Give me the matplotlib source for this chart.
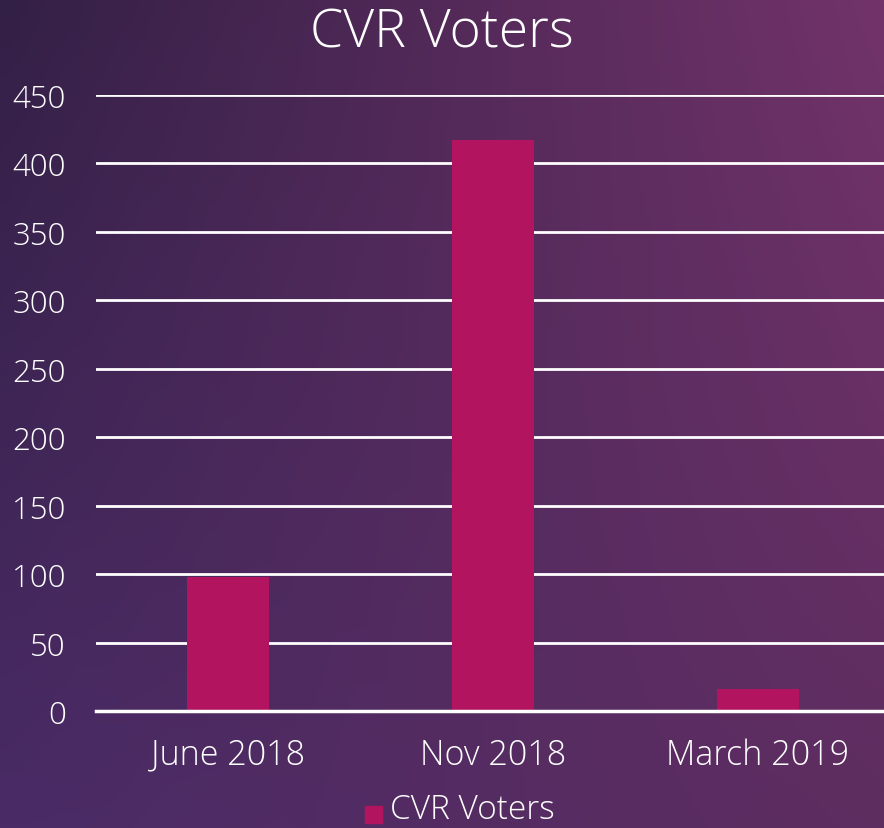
"""CVR Voters bar chart on a purple gradient background."""

import matplotlib
matplotlib.use("Agg")
import matplotlib.pyplot as plt
import numpy as np
from matplotlib.colors import to_rgb

# ── Data ──────────────────────────────────────────────────────────────────────

categories = ["June 2018", "Nov 2018", "March 2019"]
voters = [98, 417, 16]
y_ticks = [0, 50, 100, 150, 200, 250, 300, 350, 400, 450]
series_name = "CVR Voters"

BAR_COLOR = "#B3145F"
FONT = ["Open Sans", "DejaVu Sans"]
WEIGHT = "light"

W, H = 884, 829
fig = plt.figure(figsize=(W / 100, H / 100), dpi=100)

# ── Background gradient (bilinear between corner colours) ─────────────────────

tl, tr = np.array(to_rgb("#332046")), np.array(to_rgb("#72336A"))
bl, br = np.array(to_rgb("#4A2B66")), np.array(to_rgb("#5E2D60"))
u = np.linspace(0, 1, 200)[None, :, None]
v = np.linspace(0, 1, 200)[:, None, None]
grad = (1 - v) * ((1 - u) * tl + u * tr) + v * ((1 - u) * bl + u * br)
bg = fig.add_axes([0, 0, 1, 1], zorder=0)
bg.imshow(grad, aspect="auto", extent=[0, 1, 0, 1], origin="upper")
bg.axis("off")

# ── Main axes ─────────────────────────────────────────────────────────────────

left, right = 95.5 / W, 890.5 / W
bottom, top = 1 - 712 / H, 1 - 96 / H
ax = fig.add_axes([left, bottom, right - left, top - bottom], zorder=1)
ax.patch.set_alpha(0)

x = np.arange(len(categories))
ax.bar(x, voters, width=0.31, color=BAR_COLOR, zorder=3)

ax.set_xlim(-0.5, len(categories) - 0.5)
ax.set_ylim(0, 450)
ax.set_yticks(y_ticks)
ax.set_xticks(x)
ax.set_xticklabels(categories)
ax.grid(axis="y", color="white", lw=2, zorder=1)
ax.axhline(0, color="white", lw=2.5, zorder=4, clip_on=False)
ax.set_axisbelow(True)
for s in ax.spines.values():
    s.set_visible(False)
ax.tick_params(axis="both", length=0, colors="white")
ax.tick_params(axis="y", pad=21.5, labelsize=22.5)
ax.tick_params(axis="x", pad=19, labelsize=24.5)
for lbl in ax.get_xticklabels() + ax.get_yticklabels():
    lbl.set_family(FONT)
    lbl.set_weight(WEIGHT)

fig.text(0.5, 1 - 34 / H, "CVR Voters", ha="center", va="center",
         color="white", fontsize=38.5, family=FONT, weight=WEIGHT)

# legend
fig.patches.append(plt.Rectangle((365 / W, 1 - 824 / H), 17 / W, 17 / H,
                                 transform=fig.transFigure, color=BAR_COLOR))
fig.text(390 / W, 1 - 810 / H, series_name, ha="left", va="center",
         color="white", fontsize=24, family=FONT, weight=WEIGHT)

fig.savefig("out.png", dpi=100)
plt.close(fig)
